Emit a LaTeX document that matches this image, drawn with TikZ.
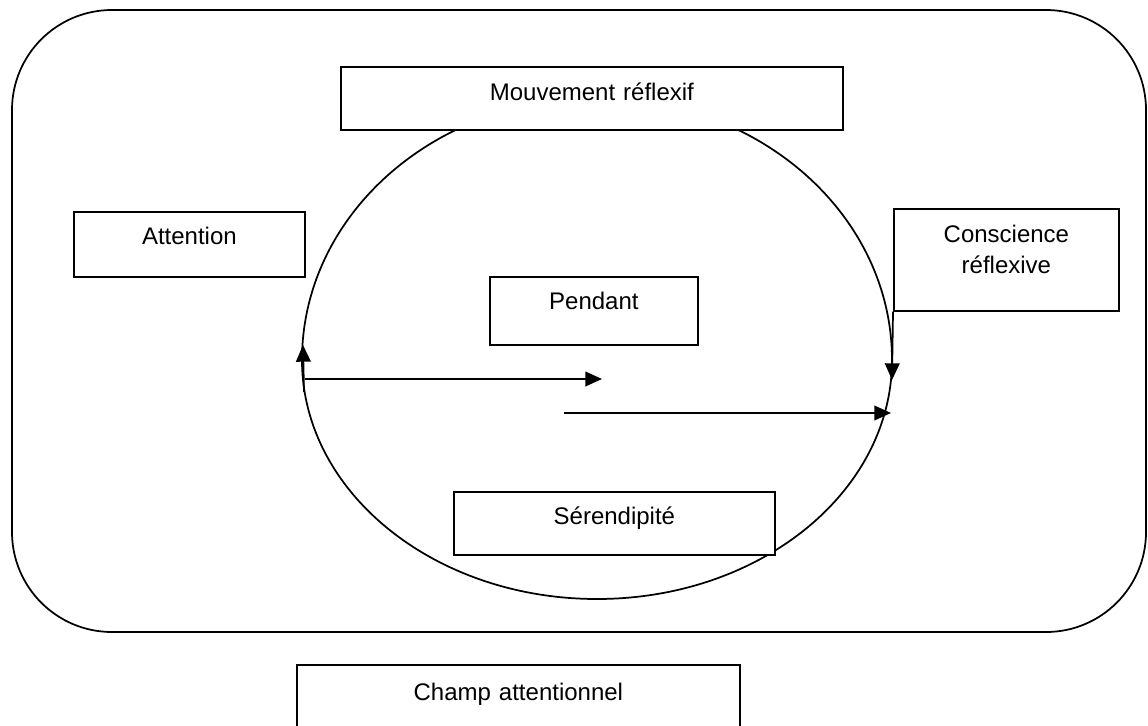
\documentclass[tikz,border=0pt]{standalone}
\usepackage{fontspec}
\setmainfont{Liberation Sans}
\usetikzlibrary{arrows.meta}
\tikzset{
  x=0.75pt, y=-0.75pt,
  line/.style={line width=1.3pt, black},
  tbox/.style={line, draw, fill=white, anchor=north west, inner xsep=0pt, inner ysep=0pt,
               align=center, font=\fontsize{18}{23.25}\selectfont},
  arr/.style={line, -{Triangle[length=12.5pt,width=11pt]}}
}
\begin{document}
\begin{tikzpicture}
\useasboundingbox (0,0) rectangle (1148,725);
\clip (0,0) rectangle (1148,725);

% attentional field frame
\draw[line, rounded corners=75pt] (12,10) rectangle (1146,632);

% reflexive loop
\draw[line] (302,360) arc[start angle=180, end angle=360, x radius=295, y radius=262]
                      arc[start angle=0, end angle=180, x radius=295, y radius=239];

% labelled boxes
\node[tbox, text width=376.5pt, text height=25.5pt, text depth=21.75pt] (mouv) at (340,66) {Mouvement réflexif};
\node[tbox, text width=173.25pt, text height=24.75pt, text depth=24pt] (attn) at (73,211) {Attention};
\node[tbox, text width=168.75pt, text height=25.5pt, text depth=51pt] (consc) at (893,208) {Conscience\\réflexive};
\node[tbox, text width=156pt, text height=24.75pt, text depth=26.25pt] (pend) at (489,276) {Pendant};
\node[tbox, text width=240.75pt, text height=24.75pt, text depth=22.5pt] (seren) at (453,491) {Sérendipité};
\node[tbox, text width=332.25pt, text height=27pt, text depth=33pt] (champ) at (296,664) {Champ attentionnel};

% arrows
\coordinate (lbot) at (304,392);
\coordinate (ltop) at (303,345);
\coordinate (h1s) at (305,379);
\coordinate (h1e) at (602,379);
\coordinate (rtip) at (892,380);
\coordinate (h2s) at (564,413);
\coordinate (h2e) at (891,413);

\draw[arr] (lbot) -- (ltop);
\draw[arr] (h1s) -- (h1e);
\draw[arr] (consc.south west) -- (rtip);
\draw[arr] (h2s) -- (h2e);
\end{tikzpicture}
\end{document}
